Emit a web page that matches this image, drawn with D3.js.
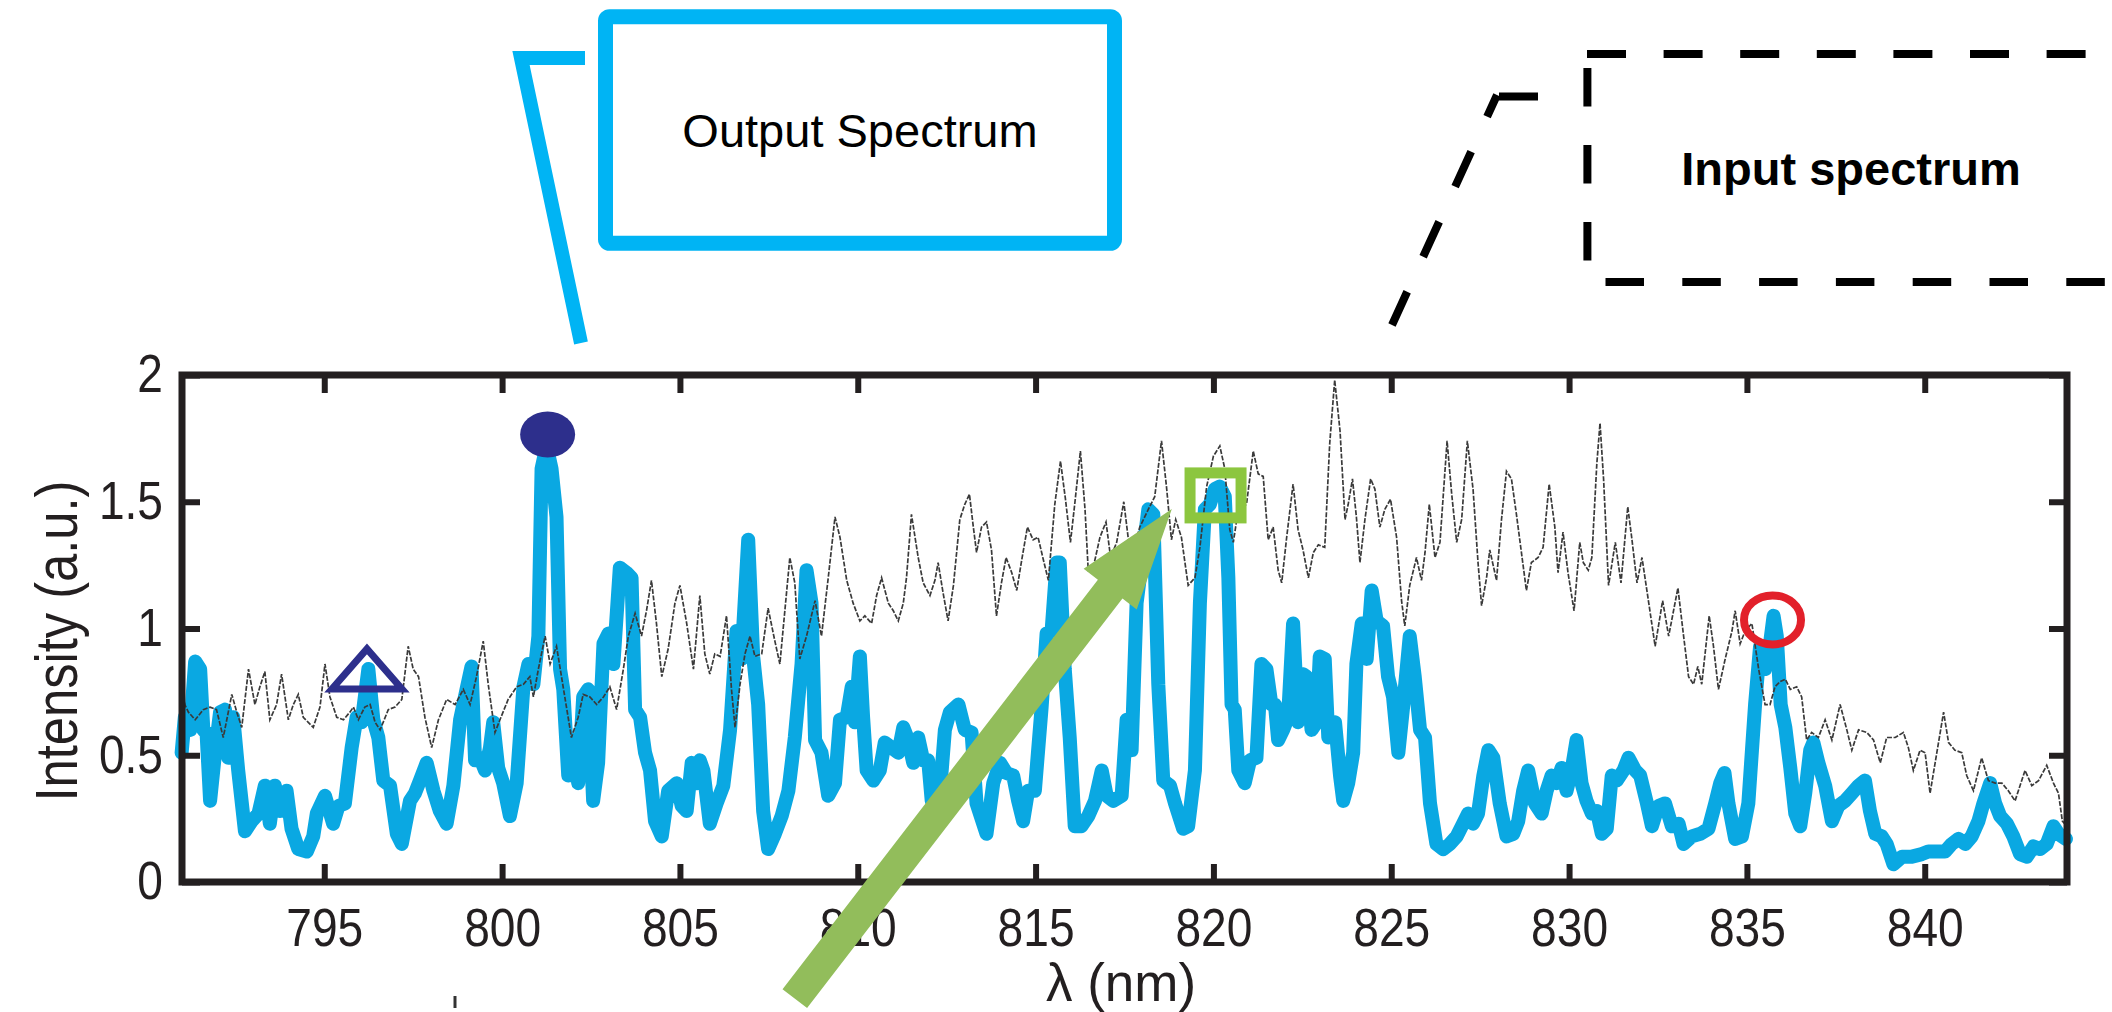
<!DOCTYPE html>
<html>
<head>
<meta charset="utf-8">
<script src="https://cdnjs.cloudflare.com/ajax/libs/d3/7.8.5/d3.min.js"></script>
<style>
html, body { margin: 0; padding: 0; background: #fff; }
svg { display: block; font-family: "Liberation Sans", Arial, Helvetica, sans-serif; }
</style>
</head>
<body>
<svg id="chart" width="2112" height="1012"></svg>
<script>
// output spectrum (thick blue)
var outWl = [790.99,791.08,791.23,791.37,791.51,791.60,791.69,791.79,791.93,792.07,792.21,792.30,792.44,792.58,792.77,792.96,793.15,793.33,793.47,793.61,793.76,793.94,794.08,794.27,794.51,794.69,794.79,795.02,795.25,795.40,795.58,795.77,795.91,796.05,796.24,796.38,796.52,796.66,796.85,797.04,797.18,797.41,797.55,797.69,797.88,798.07,798.25,798.44,798.63,798.82,799.00,799.14,799.24,799.38,799.52,799.66,799.75,799.89,800.03,800.22,800.41,800.60,800.74,800.88,801.02,801.11,801.25,801.39,801.53,801.63,801.72,801.86,802.00,802.14,802.28,802.42,802.56,802.70,802.85,802.99,803.13,803.31,803.50,803.64,803.74,803.88,804.02,804.16,804.30,804.49,804.67,804.91,805.05,805.19,805.33,805.47,
  805.56,805.66,805.84,806.03,806.22,806.41,806.59,806.73,806.92,807.06,807.20,807.34,807.48,807.67,807.86,808.05,808.23,808.42,808.56,808.70,808.80,808.98,809.17,809.36,809.50,809.69,809.83,809.92,810.06,810.15,810.25,810.44,810.62,810.76,810.95,811.14,811.28,811.42,811.56,811.70,811.84,811.98,812.08,812.31,812.45,812.59,812.83,813.01,813.20,813.34,813.62,813.81,814.00,814.18,814.37,814.51,814.65,814.79,814.98,815.17,815.31,815.45,815.59,815.68,815.82,815.96,816.10,816.29,816.48,816.67,816.86,817.00,817.18,817.42,817.56,817.70,817.84,818.03,818.17,818.31,818.45,818.59,818.78,818.92,819.15,819.29,819.48,819.62,819.76,819.90,820.04,820.18,
  820.32,820.42,820.51,820.60,820.70,820.88,821.03,821.21,821.35,821.49,821.63,821.73,821.82,821.96,822.10,822.24,822.38,822.52,822.62,822.76,822.90,822.99,823.13,823.23,823.42,823.56,823.65,823.79,823.93,824.02,824.17,824.31,824.45,824.59,824.77,824.91,825.05,825.20,825.34,825.52,825.66,825.81,825.95,826.09,826.27,826.46,826.65,826.84,827.02,827.16,827.30,827.44,827.59,827.73,827.87,828.05,828.24,828.43,828.57,828.71,828.85,829.04,829.23,829.37,829.51,829.65,829.79,829.93,830.07,830.21,830.35,830.49,
  830.64,830.78,830.92,831.06,831.20,831.34,831.53,831.67,831.86,832.00,832.19,832.33,832.51,832.70,832.89,833.08,833.22,833.45,833.69,833.92,834.11,834.25,834.37,834.48,834.67,834.86,835.04,835.23,835.37,835.51,835.65,835.75,835.84,835.95,836.08,836.22,836.36,836.50,836.64,836.78,836.87,837.01,837.20,837.39,837.57,837.76,837.95,838.14,838.32,838.46,838.61,838.79,838.93,839.12,839.36,839.64,839.92,840.10,840.39,840.57,840.76,840.95,841.14,841.32,841.51,841.65,841.84,841.98,842.12,842.31,842.49,842.68,842.87,843.06,843.24,843.43,843.62,843.76,843.97];
var outI = [0.51,0.65,0.60,0.87,0.84,0.60,0.59,0.32,0.51,0.67,0.68,0.49,0.65,0.44,0.20,0.24,0.27,0.38,0.23,0.38,0.28,0.36,0.21,0.13,0.12,0.18,0.27,0.34,0.23,0.30,0.31,0.53,0.65,0.63,0.84,0.64,0.57,0.40,0.38,0.19,0.15,0.32,0.35,0.40,0.47,0.36,0.28,0.23,0.38,0.64,0.76,0.85,0.48,0.49,0.44,0.53,0.63,0.45,0.39,0.26,0.39,0.77,0.86,0.78,0.97,1.63,1.72,1.63,1.44,0.84,0.76,0.42,0.56,0.39,0.73,0.76,0.32,0.47,0.94,0.98,0.86,1.24,1.22,1.20,0.68,0.65,0.51,0.44,0.24,0.18,0.36,0.39,0.30,0.28,0.47,0.39,
  0.48,0.44,0.23,0.31,0.38,0.60,0.99,0.88,1.35,0.89,0.70,0.28,0.13,0.19,0.26,0.36,0.57,0.86,1.23,1.10,0.56,0.51,0.34,0.39,0.64,0.65,0.77,0.63,0.89,0.65,0.44,0.40,0.44,0.55,0.53,0.51,0.61,0.56,0.47,0.57,0.48,0.48,0.32,0.35,0.60,0.67,0.70,0.60,0.59,0.31,0.19,0.39,0.47,0.43,0.42,0.32,0.24,0.36,0.36,0.69,0.98,0.99,1.26,1.26,0.84,0.57,0.22,0.22,0.26,0.32,0.44,0.34,0.32,0.34,0.64,0.52,1.10,1.31,1.47,1.45,0.78,0.40,0.38,0.31,0.21,0.22,0.44,1.10,1.47,1.49,1.55,1.56,
  1.52,1.20,0.70,0.68,0.44,0.39,0.48,0.49,0.86,0.84,0.70,0.70,0.56,0.60,0.65,1.02,0.63,0.82,0.81,0.60,0.63,0.89,0.88,0.57,0.63,0.42,0.32,0.39,0.51,0.86,1.02,0.88,1.15,1.03,1.01,0.81,0.73,0.51,0.70,0.97,0.81,0.60,0.57,0.31,0.15,0.13,0.15,0.18,0.23,0.27,0.23,0.27,0.42,0.52,0.49,0.31,0.18,0.19,0.24,0.36,0.44,0.31,0.27,0.36,0.42,0.39,0.45,0.36,0.44,0.56,0.39,0.32,
  0.27,0.28,0.19,0.21,0.42,0.40,0.44,0.49,0.44,0.42,0.31,0.22,0.30,0.31,0.22,0.23,0.15,0.18,0.19,0.21,0.31,0.39,0.43,0.31,0.17,0.18,0.31,0.70,0.93,0.84,0.94,1.05,0.97,0.70,0.61,0.45,0.27,0.22,0.35,0.52,0.55,0.47,0.38,0.24,0.30,0.32,0.35,0.38,0.40,0.28,0.19,0.18,0.15,0.07,0.10,0.10,0.11,0.12,0.12,0.12,0.15,0.17,0.15,0.18,0.24,0.31,0.39,0.31,0.26,0.23,0.18,0.11,0.10,0.14,0.13,0.15,0.22,0.19,0.17];

// input spectrum (thin dashed)
var inWl = [790.94,791.08,791.18,791.37,791.60,791.79,791.97,792.16,792.40,792.54,792.68,792.87,793.05,793.19,793.33,793.47,793.66,793.80,793.99,794.13,794.27,794.41,794.55,794.69,794.88,795.02,795.16,795.35,795.54,795.72,795.82,795.96,796.14,796.29,796.43,796.57,796.80,796.99,797.18,797.36,797.50,797.65,797.83,798.02,798.21,798.44,798.68,798.91,799.10,799.28,799.47,799.61,799.80,799.94,800.17,800.41,800.60,800.78,800.88,801.02,801.21,801.35,801.53,801.67,801.81,801.95,802.14,802.28,802.47,802.66,802.85,803.03,803.22,803.41,803.55,803.74,803.92,804.06,804.20,804.34,804.49,804.67,804.86,805.00,805.19,805.38,805.56,
  805.70,805.84,805.98,806.13,806.31,806.45,806.55,806.69,806.83,806.97,807.11,807.30,807.48,807.67,807.81,807.95,808.09,808.23,808.37,808.56,808.80,808.98,809.17,809.36,809.50,809.69,809.87,810.06,810.20,810.39,810.53,810.67,810.86,811.00,811.14,811.28,811.37,811.51,811.70,811.84,812.03,812.17,812.26,812.40,812.54,812.69,812.87,813.01,813.14,813.25,813.34,813.48,813.62,813.76,813.90,814.04,814.17,814.33,814.47,814.61,814.77,814.93,815.07,815.22,815.36,815.54,815.70,815.84,815.98,816.10,816.26,816.39,816.48,816.62,816.81,816.98,817.11,817.28,817.48,817.61,817.75,817.93,818.17,818.35,818.54,818.68,818.82,818.94,819.10,819.29,819.48,819.62,819.81,820.00,820.18,
  820.32,820.46,820.56,820.70,820.93,821.12,821.26,821.40,821.54,821.68,821.82,821.92,822.06,822.24,822.38,822.52,822.67,822.81,822.95,823.13,823.27,823.41,823.56,823.70,823.79,823.91,824.02,824.12,824.26,824.42,824.54,824.68,824.82,824.98,825.15,825.29,825.38,825.52,825.71,825.85,825.95,826.07,826.23,826.37,826.57,826.70,826.84,826.98,827.14,827.30,827.44,827.54,827.68,827.77,827.96,828.10,828.24,828.38,828.52,828.66,828.80,828.94,829.13,829.27,829.44,829.60,829.69,829.83,829.97,830.14,830.30,830.40,830.54,
  830.64,830.78,830.87,830.97,831.11,831.30,831.46,831.65,831.76,831.91,832.05,832.23,832.42,832.63,832.80,833.06,833.22,833.36,833.50,833.62,833.73,833.94,834.06,834.20,834.39,834.58,834.67,834.81,834.95,835.14,835.33,835.51,835.65,835.79,835.93,836.08,836.22,836.40,836.54,836.68,836.82,837.01,837.20,837.39,837.62,837.81,837.95,838.14,838.37,838.56,838.75,838.93,839.17,839.40,839.54,839.68,839.87,840.01,840.15,840.34,840.53,840.67,840.85,841.04,841.18,841.37,841.60,841.79,841.98,842.17,842.35,842.54,842.82,843.01,843.20,843.43,843.62,843.76,843.87,844.00];
var inI = [0.81,0.70,0.67,0.64,0.68,0.69,0.68,0.57,0.74,0.67,0.61,0.84,0.70,0.77,0.83,0.64,0.70,0.82,0.64,0.70,0.74,0.65,0.63,0.61,0.69,0.86,0.73,0.65,0.64,0.67,0.69,0.64,0.69,0.70,0.63,0.60,0.68,0.69,0.72,0.93,0.84,0.81,0.65,0.53,0.64,0.72,0.70,0.76,0.70,0.81,0.95,0.78,0.59,0.64,0.72,0.77,0.78,0.81,0.73,0.84,0.97,0.86,0.93,0.81,0.69,0.57,0.65,0.74,0.73,0.70,0.73,0.77,0.68,0.84,0.97,1.06,0.97,1.07,1.19,1.02,0.81,0.92,1.10,1.17,1.02,0.84,1.13,
  0.90,0.82,0.90,0.89,1.05,0.76,0.61,0.78,0.90,0.97,0.89,0.90,1.08,0.95,0.86,1.07,1.28,1.18,0.88,0.97,1.11,0.97,1.20,1.44,1.36,1.19,1.10,1.03,1.05,1.02,1.13,1.20,1.10,1.07,1.03,1.10,1.20,1.45,1.28,1.18,1.13,1.19,1.26,1.14,1.03,1.17,1.43,1.49,1.53,1.40,1.30,1.40,1.42,1.31,1.05,1.18,1.28,1.22,1.15,1.27,1.40,1.35,1.36,1.27,1.19,1.49,1.66,1.51,1.34,1.49,1.70,1.47,1.23,1.24,1.36,1.42,1.28,1.34,1.50,1.35,1.31,1.40,1.47,1.52,1.74,1.56,1.35,1.43,1.36,1.17,1.20,1.32,1.56,1.68,1.72,
  1.63,1.39,1.34,1.47,1.49,1.70,1.61,1.60,1.35,1.40,1.23,1.18,1.36,1.57,1.39,1.31,1.20,1.30,1.33,1.32,1.73,1.98,1.78,1.43,1.49,1.59,1.44,1.26,1.43,1.59,1.55,1.40,1.47,1.51,1.36,1.11,1.01,1.17,1.28,1.19,1.30,1.49,1.28,1.34,1.74,1.53,1.34,1.43,1.74,1.55,1.26,1.09,1.20,1.31,1.19,1.43,1.62,1.59,1.45,1.30,1.15,1.26,1.28,1.32,1.57,1.40,1.22,1.38,1.22,1.07,1.34,1.26,1.23,
  1.28,1.65,1.81,1.59,1.17,1.34,1.18,1.48,1.36,1.18,1.28,1.11,0.93,1.11,0.97,1.16,0.97,0.81,0.78,0.85,0.78,1.05,0.93,0.76,0.88,0.99,1.07,0.94,0.99,1.02,0.84,0.70,0.70,0.77,0.79,0.80,0.76,0.77,0.73,0.56,0.59,0.57,0.64,0.56,0.70,0.60,0.52,0.60,0.59,0.56,0.47,0.57,0.57,0.59,0.53,0.44,0.52,0.51,0.35,0.51,0.67,0.55,0.52,0.51,0.42,0.36,0.49,0.40,0.39,0.39,0.36,0.32,0.44,0.38,0.40,0.46,0.39,0.35,0.24,0.22];

var xTicks = [795, 800, 805, 810, 815, 820, 825, 830, 835, 840];
var yTicks = [0, 0.5, 1, 1.5, 2];

// highlighted peaks: triangle, filled dot, square, ring
var markWl = [796.20, 801.28, 820.06, 835.72];
var markI = [0.813, 1.765, 1.525, 1.034];

// green arrow, from tail to tip, in data units
var arrowFrom = [808.23, -0.46];
var arrowTo = [818.83, 1.471];

var svg = d3.select("#chart");
var ink = "#231f20";
var fontStack = '"Liberation Sans", Arial, Helvetica, sans-serif';

var x = d3.scaleLinear().domain([791, 844]).range([182, 2067]);
var y = d3.scaleLinear().domain([0, 2]).range([882, 375]);

// ---- callouts above the plot ----
var cyan = "#00b4f4";
svg.append("polyline")
  .attr("points", "581,343 521,58 585,58")
  .attr("fill", "none").attr("stroke", cyan).attr("stroke-width", 14)
  .attr("stroke-linejoin", "miter");
svg.append("rect")
  .attr("x", 605.5).attr("y", 16.7).attr("width", 509).attr("height", 226.6).attr("rx", 4)
  .attr("fill", "#fff").attr("stroke", cyan).attr("stroke-width", 15);
svg.append("text")
  .attr("x", 860).attr("y", 147).attr("text-anchor", "middle")
  .attr("font-size", 47).attr("fill", "#000")
  .text("Output Spectrum");

var dash = svg.append("g").attr("stroke", "#000").attr("stroke-width", 8).attr("fill", "none");
dash.append("line").attr("x1", 1587).attr("y1", 54).attr("x2", 2130).attr("y2", 54)
  .attr("stroke-dasharray", "39 37.6");
dash.append("line").attr("x1", 1605.5).attr("y1", 282).attr("x2", 2130).attr("y2", 282)
  .attr("stroke-dasharray", "38.5 38.3");
dash.append("line").attr("x1", 1587.4).attr("y1", 68).attr("x2", 1587.4).attr("y2", 261)
  .attr("stroke-dasharray", "38.5 38.5");
dash.append("line").attr("x1", 1499).attr("y1", 96.5).attr("x2", 1538).attr("y2", 96.5);
dash.append("line").attr("x1", 1497).attr("y1", 95).attr("x2", 1392).attr("y2", 325)
  .attr("stroke-dasharray", "38.5 38.5").attr("stroke-dashoffset", 14.7);
svg.append("text")
  .attr("x", 1851).attr("y", 185).attr("text-anchor", "middle")
  .attr("font-size", 47).attr("font-weight", "bold").attr("fill", "#000")
  .text("Input spectrum");

// ---- spectra ----
var line = d3.line().x(function (d) { return x(d[0]); }).y(function (d) { return y(d[1]); });

svg.append("path")
  .datum(d3.zip(outWl, outI))
  .attr("d", line)
  .attr("fill", "none").attr("stroke", "#0aa8e2").attr("stroke-width", 14)
  .attr("stroke-linejoin", "round").attr("stroke-linecap", "round");

svg.append("path")
  .datum(d3.zip(inWl, inI))
  .attr("d", line)
  .attr("fill", "none").attr("stroke", "#3a3a3a").attr("stroke-width", 1.7)
  .attr("stroke-dasharray", "5 1.6");

// ---- frame and ticks ----
function styleAxis(g) {
  g.select(".domain").remove();
  g.selectAll(".tick line").attr("stroke", ink).attr("stroke-width", 6);
  g.selectAll("text").attr("fill", ink).attr("font-size", 53)
    .attr("font-family", fontStack);
}

svg.append("g").attr("transform", "translate(0,882)")
  .call(d3.axisBottom(x).tickValues(xTicks).tickSize(-18).tickPadding(26).tickFormat(d3.format("d")))
  .call(styleAxis);
svg.append("g").attr("transform", "translate(0,375)")
  .call(d3.axisTop(x).tickValues(xTicks).tickSize(-18).tickFormat(""))
  .call(styleAxis);
svg.append("g").attr("transform", "translate(182,0)")
  .call(d3.axisLeft(y).tickValues(yTicks).tickSize(-18).tickPadding(19).tickFormat(d3.format("~g")))
  .call(styleAxis);
svg.append("g").attr("transform", "translate(2067,0)")
  .call(d3.axisRight(y).tickValues(yTicks).tickSize(-18).tickFormat(""))
  .call(styleAxis);

// the figure's labels are slightly narrow
svg.selectAll(".tick text").each(function () {
  var w = this.getComputedTextLength();
  if (w > 0) d3.select(this).attr("textLength", w * 0.87).attr("lengthAdjust", "spacingAndGlyphs");
});

svg.append("rect")
  .attr("x", x(791)).attr("y", y(2))
  .attr("width", x(844) - x(791)).attr("height", y(0) - y(2))
  .attr("fill", "none").attr("stroke", ink).attr("stroke-width", 7);

svg.append("text")
  .attr("transform", "translate(77,641) rotate(-90)")
  .attr("text-anchor", "middle").attr("font-size", 59).attr("fill", ink)
  .attr("textLength", 321).attr("lengthAdjust", "spacingAndGlyphs")
  .text("Intensity (a.u.)");

svg.append("text")
  .attr("x", 1121).attr("y", 1001).attr("text-anchor", "middle")
  .attr("font-size", 53).attr("fill", ink)
  .text("λ (nm)");

svg.append("line").attr("x1", 455).attr("y1", 996).attr("x2", 455).attr("y2", 1008)
  .attr("stroke", "#333").attr("stroke-width", 3);

// ---- peak markers ----
var navy = "#2d2f8c";
svg.append("path")
  .attr("transform", "translate(" + x(markWl[0]) + "," + y(markI[0]) + ")")
  .attr("d", "M0,-27L35,13L-35,13Z")
  .attr("fill", "none").attr("stroke", navy).attr("stroke-width", 7);
svg.append("ellipse")
  .attr("cx", x(markWl[1])).attr("cy", y(markI[1])).attr("rx", 27.5).attr("ry", 23)
  .attr("fill", navy);
svg.append("rect")
  .attr("x", x(markWl[2]) - 25.5).attr("y", y(markI[2]) - 22.5).attr("width", 51).attr("height", 45)
  .attr("fill", "none").attr("stroke", "#8cc63f").attr("stroke-width", 11);
svg.append("ellipse")
  .attr("cx", x(markWl[3])).attr("cy", y(markI[3])).attr("rx", 28.5).attr("ry", 24.5)
  .attr("fill", "none").attr("stroke", "#e2202a").attr("stroke-width", 8);

// ---- green arrow ----
var ax0 = x(arrowFrom[0]), ay0 = y(arrowFrom[1]);
var ax1 = x(arrowTo[0]), ay1 = y(arrowTo[1]);
var len = Math.hypot(ax1 - ax0, ay1 - ay0);
var ux = (ax1 - ax0) / len, uy = (ay1 - ay0) / len;
var nx = -uy, ny = ux;
var headLen = 101, headHalf = 33.5, shaftHalf = 15.5;
var bx = ax1 - ux * headLen, by = ay1 - uy * headLen;
var arrowPts = [
  [ax0 + nx * shaftHalf, ay0 + ny * shaftHalf],
  [bx + nx * shaftHalf, by + ny * shaftHalf],
  [bx + nx * headHalf, by + ny * headHalf],
  [ax1, ay1],
  [bx - nx * headHalf, by - ny * headHalf],
  [bx - nx * shaftHalf, by - ny * shaftHalf],
  [ax0 - nx * shaftHalf, ay0 - ny * shaftHalf]
];
svg.append("polygon")
  .attr("points", arrowPts.map(function (p) { return p.join(","); }).join(" "))
  .attr("fill", "#92bd5b");
</script>
</body>
</html>
